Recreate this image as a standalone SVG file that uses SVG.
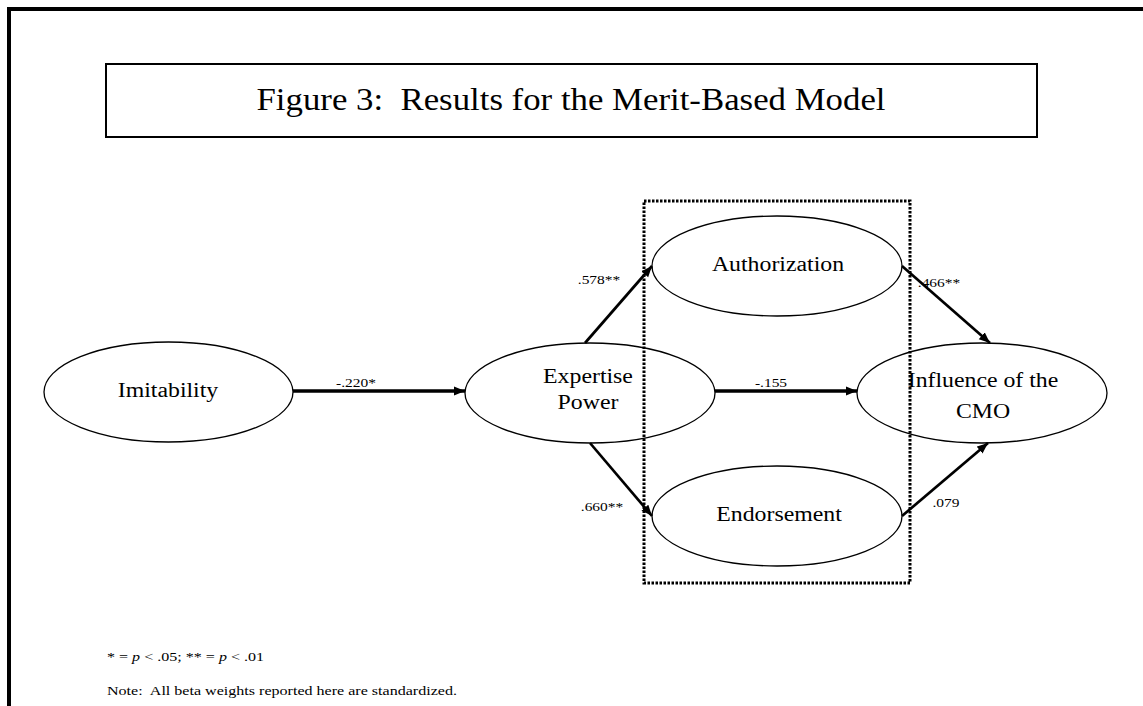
<svg xmlns="http://www.w3.org/2000/svg" width="1143" height="706" viewBox="0 0 1143 706">
<style>
  text { font-family: "Liberation Serif", "Times New Roman", serif; fill: #000; white-space: pre; }
  .node { font-size: 20px; text-anchor: middle; }
  .lbl { font-size: 13px; text-anchor: middle; }
  .note { font-size: 13.5px; }
  ellipse { fill: #fff; stroke: #000; stroke-width: 1.3; }
  .edge { stroke: #000; fill: none; }
  .thick { stroke-width: 3.5; }
  .diag { stroke-width: 2.7; }
</style>
<defs>
  <marker id="ah" markerUnits="userSpaceOnUse" markerWidth="12" markerHeight="10" refX="11" refY="5" orient="auto">
    <path d="M0,0.5 L11,5 L0,9.5 Z" fill="#000"/>
  </marker>
</defs>
<rect width="1143" height="706" fill="#fff"/>
<path d="M9,706 V9 H1143" fill="none" stroke="#000" stroke-width="4"/>
<g id="title">
  <rect x="106" y="64" width="931" height="73" fill="#fff" stroke="#000" stroke-width="2"/>
  <text x="571" y="110" style="font-size:32px" text-anchor="middle" textLength="629" lengthAdjust="spacingAndGlyphs">Figure 3:  Results for the Merit-Based Model</text>
</g>
<g id="imitability">
  <ellipse cx="168.5" cy="392" rx="124.5" ry="50"/>
  <text class="node" transform="translate(168,397) scale(1.19,1)">Imitability</text>
</g>
<g id="expertise">
  <ellipse cx="590" cy="393" rx="125" ry="50"/>
  <text class="node" transform="translate(588,383) scale(1.19,1)">Expertise</text>
  <text class="node" transform="translate(588,409) scale(1.19,1)">Power</text>
</g>
<g id="authorization">
  <ellipse cx="777" cy="266" rx="125" ry="50"/>
  <text class="node" transform="translate(778,271) scale(1.19,1)">Authorization</text>
</g>
<g id="endorsement">
  <ellipse cx="777" cy="516" rx="125" ry="50"/>
  <text class="node" transform="translate(779,521) scale(1.19,1)">Endorsement</text>
</g>
<g id="influence">
  <ellipse cx="982" cy="393" rx="125" ry="50"/>
  <text class="node" transform="translate(983,387) scale(1.19,1)">Influence of the</text>
  <text class="node" transform="translate(983,418) scale(1.19,1)">CMO</text>
</g>
<g id="mediators-box">
  <rect x="644" y="201" width="266" height="382" fill="none" stroke="#000" stroke-width="3" stroke-dasharray="2.5,1.5"/>
</g>
<g id="connectors">
  <line class="edge thick" x1="293" y1="391" x2="465" y2="391" marker-end="url(#ah)"/>
  <line class="edge diag" x1="585" y1="343" x2="652" y2="266" marker-end="url(#ah)"/>
  <line class="edge diag" x1="590" y1="443" x2="652" y2="516" marker-end="url(#ah)"/>
  <line class="edge thick" x1="715" y1="391" x2="857" y2="391" marker-end="url(#ah)"/>
  <line class="edge diag" x1="902" y1="266" x2="990" y2="343" marker-end="url(#ah)"/>
  <line class="edge diag" x1="902" y1="516" x2="988" y2="443" marker-end="url(#ah)"/>
  <text class="lbl" transform="translate(356,387) scale(1.19,1)">-.220*</text>
  <text class="lbl" transform="translate(599,284) scale(1.19,1)">.578**</text>
  <text class="lbl" transform="translate(602,511) scale(1.19,1)">.660**</text>
  <text class="lbl" transform="translate(771,387) scale(1.19,1)">-.155</text>
  <text class="lbl" transform="translate(939,287) scale(1.19,1)">.466**</text>
  <text class="lbl" transform="translate(946,507) scale(1.19,1)">.079</text>
</g>
<g id="notes">
  <text class="note" transform="translate(107,661) scale(1.19,1)">* = <tspan font-style="italic">p</tspan> &lt; .05; ** = <tspan font-style="italic">p</tspan> &lt; .01</text>
  <text class="note" transform="translate(107,695) scale(1.19,1)">Note:  All beta weights reported here are standardized.</text>
</g>
</svg>
